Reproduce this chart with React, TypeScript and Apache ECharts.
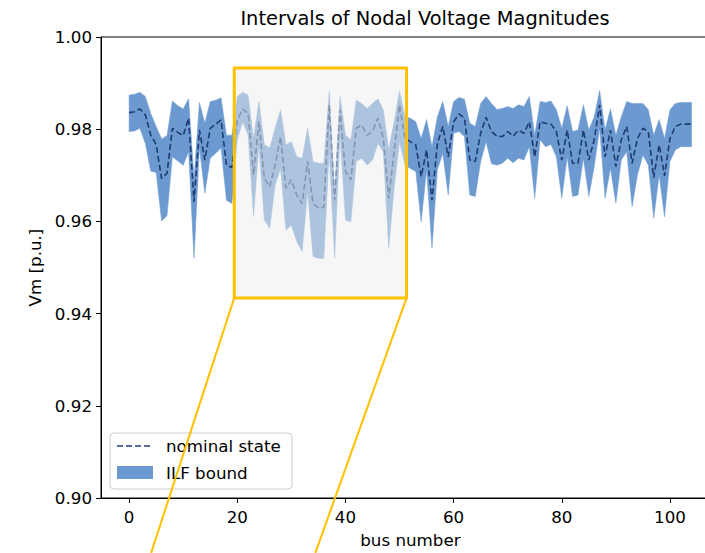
import React, { useEffect, useRef } from "react";
import * as echarts from "echarts";

// bus indices 0..104
const buses: number[] = [
  0, 1, 2, 3, 4, 5, 6, 7, 8, 9, 10, 11, 12, 13, 14, 15, 16, 17, 18, 19, 20, 21, 22, 23, 24, 25, 26, 27, 28, 29,
  30, 31, 32, 33, 34, 35, 36, 37, 38, 39, 40, 41, 42, 43, 44, 45, 46, 47, 48, 49, 50, 51, 52, 53, 54, 55, 56, 57, 58, 59,
  60, 61, 62, 63, 64, 65, 66, 67, 68, 69, 70, 71, 72, 73, 74, 75, 76, 77, 78, 79, 80, 81, 82, 83, 84, 85, 86, 87, 88, 89,
  90, 91, 92, 93, 94, 95, 96, 97, 98, 99, 100, 101, 102, 103, 104,
];

const upperBound: number[] = [
  0.9874, 0.9876, 0.988, 0.9871, 0.9834, 0.9806, 0.9779, 0.9786, 0.9861, 0.9851,
  0.9844, 0.9866, 0.9693, 0.9858, 0.9813, 0.986, 0.9863, 0.9868, 0.9787, 0.9787,
  0.9871, 0.988, 0.9874, 0.978, 0.986, 0.9766, 0.9759, 0.9802, 0.9842, 0.9766,
  0.9773, 0.974, 0.9737, 0.9802, 0.973, 0.9726, 0.9726, 0.9883, 0.9665, 0.9871,
  0.9787, 0.9777, 0.9863, 0.9856, 0.9845, 0.9856, 0.9866, 0.9842, 0.9755, 0.9816,
  0.9883, 0.9827, 0.9824, 0.9816, 0.978, 0.9821, 0.9762, 0.9827, 0.986, 0.9806,
  0.986, 0.9869, 0.9865, 0.9813, 0.9806, 0.9856, 0.9871, 0.9856, 0.9843, 0.9845,
  0.9849, 0.9845, 0.9853, 0.9849, 0.9871, 0.9787, 0.986, 0.9858, 0.9861, 0.9842,
  0.9802, 0.9851, 0.9795, 0.9798, 0.9853, 0.9798, 0.9827, 0.9884, 0.9798, 0.9844,
  0.9787, 0.9827, 0.986, 0.9856, 0.9856, 0.9856, 0.9842, 0.9787, 0.9821, 0.978,
  0.9842, 0.9856, 0.9858, 0.9858, 0.9858,
];

const nominalState: number[] = [
  0.9836, 0.9838, 0.9844, 0.9831, 0.9787, 0.9767, 0.9693, 0.9704, 0.9802, 0.9793,
  0.9786, 0.9824, 0.9643, 0.9798, 0.9733, 0.9802, 0.9811, 0.982, 0.9722, 0.9717,
  0.982, 0.9844, 0.9834, 0.9701, 0.9816, 0.9693, 0.9675, 0.9722, 0.9784, 0.9672,
  0.969, 0.9657, 0.9639, 0.973, 0.9639, 0.963, 0.963, 0.9853, 0.9646, 0.9842,
  0.9708, 0.969, 0.9802, 0.9809, 0.9787, 0.9795, 0.9824, 0.978, 0.965, 0.9751,
  0.9853, 0.978, 0.9773, 0.9766, 0.9697, 0.9755, 0.9646, 0.9769, 0.9806, 0.974,
  0.9816, 0.9833, 0.9824, 0.9733, 0.973, 0.9791, 0.9826, 0.9795, 0.9785, 0.9784,
  0.9795, 0.9785, 0.9798, 0.9791, 0.9816, 0.974, 0.9816, 0.9813, 0.9811, 0.9795,
  0.9733, 0.9798, 0.9726, 0.9726, 0.9798, 0.9733, 0.9777, 0.9853, 0.974, 0.9798,
  0.9719, 0.9777, 0.9806, 0.9726, 0.978, 0.9802, 0.9795, 0.9695, 0.9766, 0.9699,
  0.978, 0.9806, 0.9811, 0.9811, 0.9811,
];

const lowerBound: number[] = [
  0.9795, 0.9796, 0.9802, 0.9769, 0.9709, 0.9706, 0.9601, 0.9612, 0.974, 0.9731,
  0.9722, 0.9751, 0.952, 0.9759, 0.9661, 0.9737, 0.9748, 0.9759, 0.9646, 0.9639,
  0.9777, 0.9816, 0.9787, 0.961, 0.9766, 0.9603, 0.9585, 0.9679, 0.9715, 0.9581,
  0.9592, 0.9556, 0.9534, 0.9665, 0.9524, 0.952, 0.952, 0.9751, 0.952, 0.9787,
  0.9603, 0.9599, 0.973, 0.9737, 0.9722, 0.9733, 0.9769, 0.9751, 0.9542, 0.9672,
  0.9773, 0.9722, 0.9715, 0.9708, 0.9599, 0.9712, 0.9542, 0.9712, 0.9748, 0.9657,
  0.9791, 0.9795, 0.9784, 0.9657, 0.9654, 0.973, 0.9773, 0.9725, 0.9722, 0.9726,
  0.9737, 0.9727, 0.9737, 0.9733, 0.9762, 0.965, 0.9777, 0.9762, 0.9767, 0.974,
  0.965, 0.974, 0.9654, 0.9657, 0.9737, 0.9654, 0.9719, 0.9802, 0.965, 0.9715,
  0.9639, 0.9733, 0.9751, 0.9632, 0.9701, 0.9744, 0.9722, 0.9607, 0.9701, 0.961,
  0.973, 0.9755, 0.9762, 0.9762, 0.9762,
];

const xTicks: number[] = [0, 20, 40, 60, 80, 100];
const xRange: number[] = [-5.2, 109.2];
const yRange: number[] = [0.9, 1.0];
const yStep = 0.02;

// zoom box [xMin, yMin, xMax, yMax] and connector end points (towards an inset below)
const zoomBox: number[] = [19.44, 0.9434, 51.3, 0.9933];
const connectorLeftEnd: number[] = [4.07, 0.8881];
const connectorRightEnd: number[] = [34.44, 0.8881];

const BAND = "#6c9ad0";
const NAVY = "#1f3b73";
const GOLD = "#FFC000";
const FONT = "DejaVu Sans";

export default function App() {
  const ref = useRef<HTMLDivElement>(null);

  useEffect(() => {
    if (!ref.current) return;
    const chart = echarts.init(ref.current, undefined, { renderer: "svg" });

    const option: any = {
      animation: false,
      backgroundColor: "#ffffff",
      title: {
        text: "Intervals of Nodal Voltage Magnitudes",
        left: 425,
        top: 9,
        padding: 0,
        textAlign: "center",
        textStyle: { fontFamily: FONT, fontSize: 19.4, fontWeight: "normal", color: "#000" },
      },
      grid: {
        left: 101,
        top: 37,
        width: 618.7,
        height: 461,
        show: true,
        borderColor: "#000",
        borderWidth: 1,
        backgroundColor: "transparent",
      },
      xAxis: {
        type: "value",
        min: xRange[0],
        max: xRange[1],
        name: "bus number",
        nameLocation: "middle",
        nameGap: 33,
        nameTextStyle: { fontFamily: FONT, fontSize: 16.7, color: "#000" },
        axisLine: { show: true, onZero: false, lineStyle: { color: "#000", width: 1 } },
        axisTick: { show: true, inside: false, length: 5, customValues: xTicks, lineStyle: { color: "#000" } },
        axisLabel: {
          customValues: xTicks,
          margin: 10,
          fontFamily: FONT,
          fontSize: 16.7,
          color: "#000",
        },
        splitLine: { show: false },
      },
      yAxis: {
        type: "value",
        min: yRange[0],
        max: yRange[1],
        interval: yStep,
        name: "Vm [p.u.]",
        nameLocation: "middle",
        nameRotate: 90,
        nameGap: 57,
        nameTextStyle: { fontFamily: FONT, fontSize: 16.7, color: "#000" },
        axisLine: { show: true, onZero: false, lineStyle: { color: "#000", width: 1 } },
        axisTick: { show: true, inside: false, length: 5, lineStyle: { color: "#000" } },
        axisLabel: {
          margin: 9,
          fontFamily: FONT,
          fontSize: 16.7,
          color: "#000",
          formatter: (v: number) => v.toFixed(2),
        },
        splitLine: { show: false },
      },
      graphic: [
        {
          type: "group",
          z: 5,
          children: [
            {
              type: "rect",
              z: 5,
              shape: { x: 110, y: 433, width: 182, height: 56, r: 4 },
              style: { fill: "rgba(255,255,255,0.8)", stroke: "#cccccc", lineWidth: 1 },
            },
            {
              type: "line",
              z: 6,
              shape: { x1: 117, y1: 446, x2: 152, y2: 446 },
              style: { stroke: NAVY, lineWidth: 1.6, lineDash: [6, 3] },
            },
            {
              type: "rect",
              z: 6,
              shape: { x: 117, y: 466, width: 36, height: 13 },
              style: { fill: BAND },
            },
            {
              type: "text",
              z: 6,
              x: 166,
              y: 446,
              style: {
                text: "nominal state",
                fontFamily: FONT,
                fontSize: 16.7,
                fill: "#000",
                verticalAlign: "middle",
                align: "left",
              },
            },
            {
              type: "text",
              z: 6,
              x: 166,
              y: 473,
              style: {
                text: "ILF bound",
                fontFamily: FONT,
                fontSize: 16.7,
                fill: "#000",
                verticalAlign: "middle",
                align: "left",
              },
            },
          ],
        },
      ],
      series: [
        {
          name: "ILF bound",
          type: "custom",
          coordinateSystem: "cartesian2d",
          z: 2,
          data: buses.map((b, i) => [b, lowerBound[i], upperBound[i]]),
          renderItem: (params: any, api: any) => {
            if (params.dataIndex !== 0) return { type: "group", children: [] };
            const pts: number[][] = [];
            for (let i = 0; i < buses.length; i++) pts.push(api.coord([buses[i], upperBound[i]]));
            for (let i = buses.length - 1; i >= 0; i--) pts.push(api.coord([buses[i], lowerBound[i]]));
            return {
              type: "polygon",
              shape: { points: pts },
              style: { fill: BAND, stroke: BAND, lineWidth: 0.5 },
            };
          },
        },
        {
          name: "nominal state",
          type: "line",
          z: 3,
          data: buses.map((b, i) => [b, nominalState[i]]),
          showSymbol: false,
          symbol: "none",
          lineStyle: { color: NAVY, width: 1.6, type: [6, 3] },
        },
        {
          name: "zoom",
          type: "custom",
          coordinateSystem: "cartesian2d",
          z: 10,
          clip: false,
          data: [zoomBox],
          renderItem: (params: any, api: any) => {
            const tl = api.coord([api.value(0), api.value(3)]);
            const br = api.coord([api.value(2), api.value(1)]);
            const e0 = api.coord(connectorLeftEnd);
            const e1 = api.coord(connectorRightEnd);
            return {
              type: "group",
              children: [
                {
                  type: "rect",
                  shape: { x: tl[0], y: tl[1], width: br[0] - tl[0], height: br[1] - tl[1] },
                  style: { fill: "rgba(238,238,238,0.5)", stroke: GOLD, lineWidth: 3 },
                },
                {
                  type: "line",
                  shape: { x1: tl[0], y1: br[1], x2: e0[0], y2: e0[1] },
                  style: { stroke: GOLD, lineWidth: 2 },
                },
                {
                  type: "line",
                  shape: { x1: br[0], y1: br[1], x2: e1[0], y2: e1[1] },
                  style: { stroke: GOLD, lineWidth: 2 },
                },
              ],
            };
          },
        },
      ],
    };

    chart.setOption(option);
    return () => chart.dispose();
  }, []);

  return (
    <div
      style={{
        position: "fixed",
        left: 0,
        top: 0,
        width: 705,
        height: 553,
        overflow: "hidden",
        background: "#fff",
      }}
    >
      <div ref={ref} style={{ width: 740, height: 553 }} />
    </div>
  );
}
